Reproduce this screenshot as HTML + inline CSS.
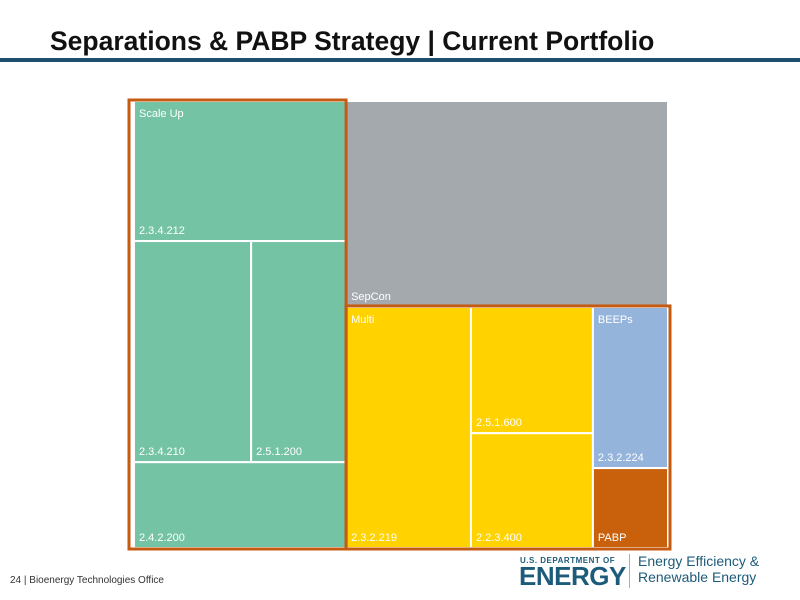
<!DOCTYPE html>
<html><head><meta charset="utf-8"><style>
body{margin:0;width:800px;height:600px;background:#fff;font-family:"Liberation Sans",sans-serif;position:relative;overflow:hidden}
.title{position:absolute;left:50px;top:26px;font-size:26.5px;font-weight:bold;color:#111}
.rule{position:absolute;left:0;top:58px;width:800px;height:4px;background:#1d4f6f}
.foot{position:absolute;left:10px;top:575px;font-size:10px;color:#333}
</style></head><body>
<div class="title">Separations &amp; PABP Strategy | Current Portfolio</div>
<div class="rule"></div>
<svg id="tm" width="800" height="600" style="position:absolute;left:0;top:0"></svg>
<div class="foot">24 | Bioenergy Technologies Office</div>
<div style="position:absolute;left:520px;top:556px;font-size:8px;font-weight:bold;color:#1d5b7a;letter-spacing:0.5px">U.S. DEPARTMENT OF</div>
<div style="position:absolute;left:519px;top:561px;font-size:26px;font-weight:900;color:#1d5b7a;letter-spacing:-0.5px">ENERGY</div>
<div style="position:absolute;left:629px;top:554px;width:1px;height:34px;background:#d9a65a"></div>
<div style="position:absolute;left:638px;top:553px;font-size:14px;line-height:16px;color:#1d5b7a">Energy Efficiency &amp;<br>Renewable Energy</div>
<script>
// leaf values (area units)
const names = ["2.3.4.212","2.3.4.210","2.5.1.200","2.4.2.200","SepCon","2.3.2.219","2.5.1.600","2.2.3.400","2.3.2.224","PABP"];
const values = [29.7,25.9,21.0,18.2,66.3,30.1,15.4,14.0,12.1,6.0];
const groupLabels = ["Scale Up","SepCon","Multi","BEEPs"];
const colors = {green:"#74c3a5",gray:"#a4a9ae",yellow:"#ffd200",blue:"#95b4dc",orange:"#c8600c"};
const tree = {dir:"h",kids:[
  {dir:"v",frame:true,top:"Scale Up",kids:[{leaf:0,c:"green"},{dir:"h",kids:[{leaf:1,c:"green"},{leaf:2,c:"green"}]},{leaf:3,c:"green"}]},
  {dir:"v",kids:[{leaf:4,c:"gray",top:null},
    {dir:"h",frame:true,kids:[
      {dir:"h",kids:[{leaf:5,c:"yellow",top:"Multi"},{dir:"v",kids:[{leaf:6,c:"yellow"},{leaf:7,c:"yellow"}]}]},
      {dir:"v",kids:[{leaf:8,c:"blue",top:"BEEPs"},{leaf:9,c:"orange"}]}]}]}]};
const svg=document.getElementById('tm'),NS="http://www.w3.org/2000/svg";
function sum(n){return n.leaf!==undefined?values[n.leaf]:n.kids.reduce((a,k)=>a+sum(k),0);}
const frames=[];
function layout(n,x,y,w,h){
  if(n.frame)frames.push([x,y,w,h]);
  if(n.leaf!==undefined){draw(n,x,y,w,h);return;}
  const t=sum(n);let p=0;
  n.kids.forEach(k=>{const f=sum(k)/t;
    if(n.dir==="h"){layout(k,x+p*w,y,f*w,h);}else{layout(k,x,y+p*h,w,f*h);} p+=f;});
  if(n.top)txt(x+5,y+16,n.top,'group-label');
}
function txt(x,y,s,nm){const t=document.createElementNS(NS,'text');t.setAttribute('x',x);t.setAttribute('y',y);
  t.setAttribute('fill','#fff');t.setAttribute('font-size','11');t.setAttribute('font-family','Liberation Sans, sans-serif');t.textContent=s;
  
  
  later.push(t);}
const later=[];
function draw(n,x,y,w,h){
  const r=document.createElementNS(NS,'rect');
  r.setAttribute('x',x);r.setAttribute('y',y);r.setAttribute('width',w);r.setAttribute('height',h);
  r.setAttribute('fill',colors[n.c]);r.setAttribute('stroke','#fff');r.setAttribute('stroke-width','2');
  
  
  svg.appendChild(r);
  if(n.top)txt(x+5,y+16,n.top,'group-label');
  txt(x+5,y+h-7,names[n.leaf],'cell-label');
}
layout(tree,134,101,534,447);
frames.forEach(f=>{const r=document.createElementNS(NS,'rect');
  r.setAttribute('x',f[0]-(f[0]<200?5:0));r.setAttribute('y',f[1]-1);r.setAttribute('width',f[2]+(f[0]<200?5:2));r.setAttribute('height',f[3]+2);
  r.setAttribute('fill','none');r.setAttribute('stroke','#c55a11');r.setAttribute('stroke-width','3');
  
  
  svg.appendChild(r);});
later.forEach(t=>svg.appendChild(t));
</script>
</body></html>
